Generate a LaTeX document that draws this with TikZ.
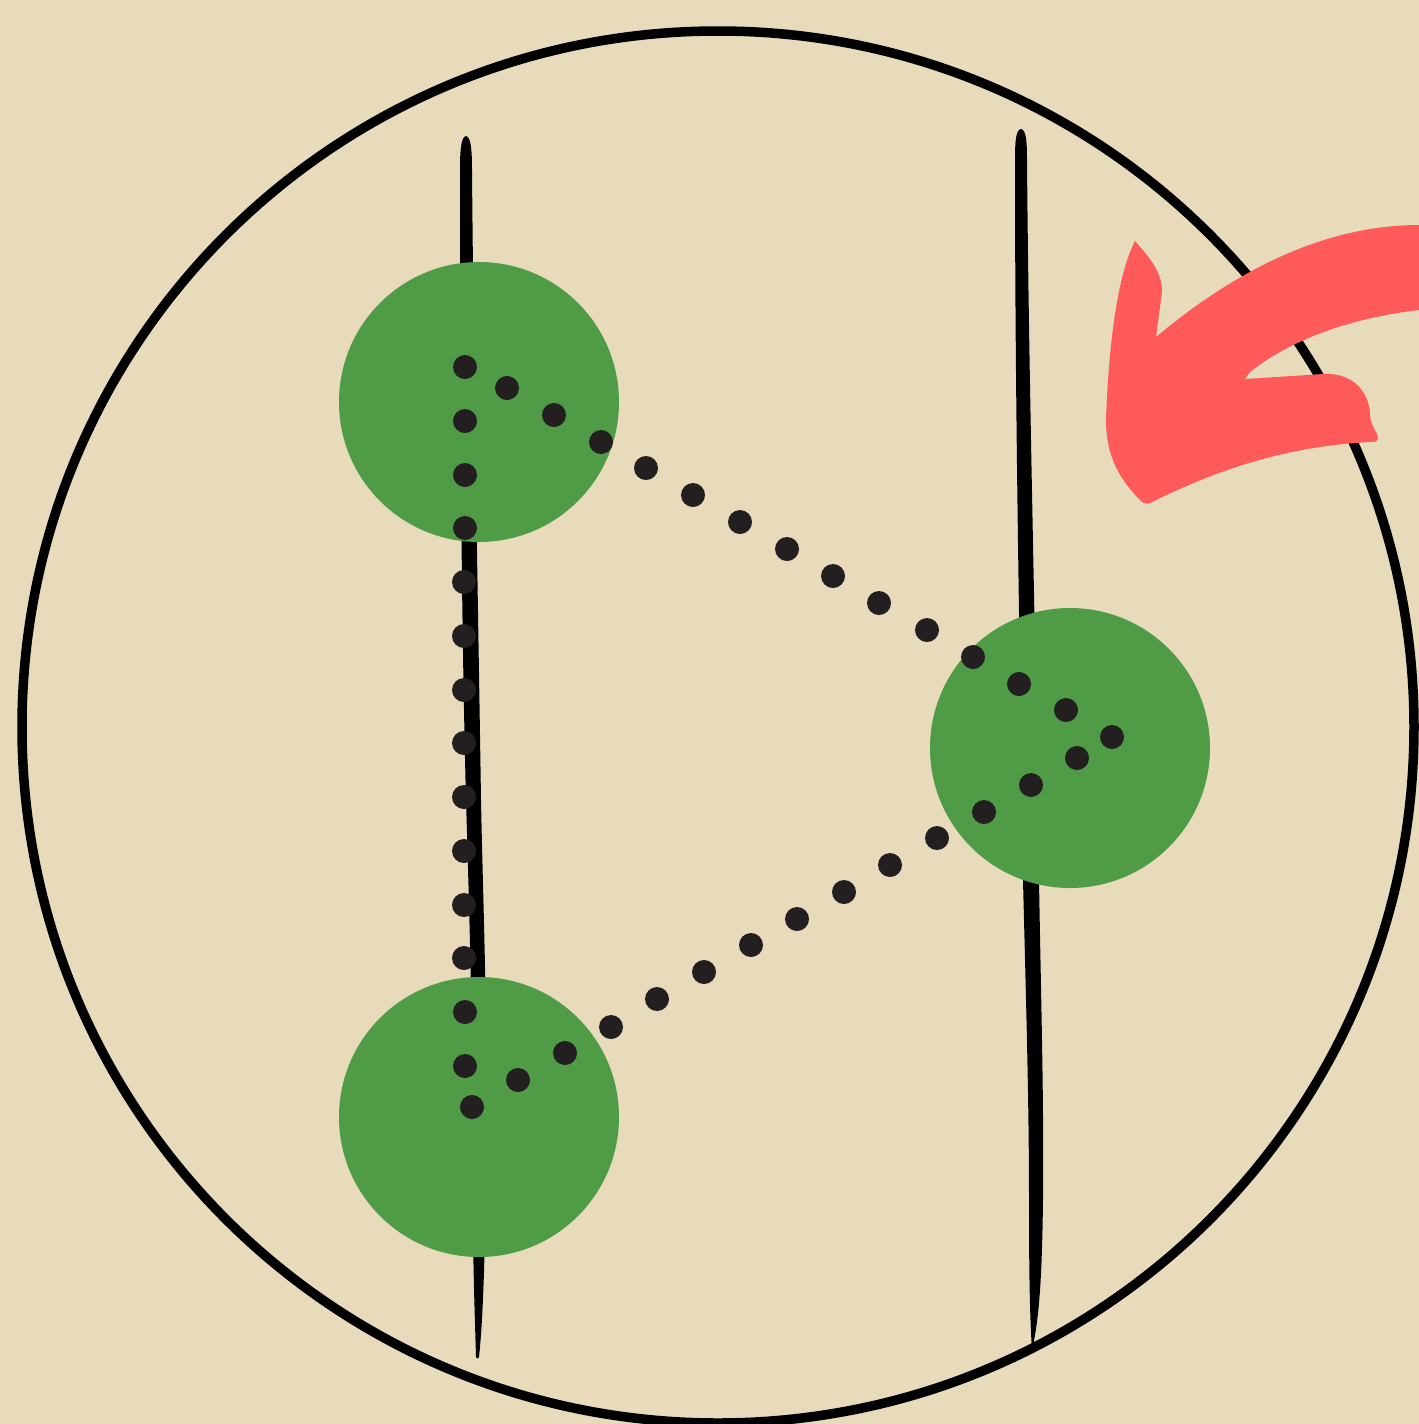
\documentclass[tikz,border=0pt]{standalone}
\definecolor{paper}{HTML}{E7DBBB}
\definecolor{leaf}{HTML}{4F9B46}
\definecolor{ink}{HTML}{231F20}
\definecolor{coral}{HTML}{FF5A5A}
\tikzset{
  blob/.style={circle, fill=leaf, minimum size=28mm, inner sep=0pt},
  dotmark/.style={fill=ink},
  stroke/.style={fill=black},
  ring/.style={draw=black, line width=0.95mm},
  arrowshape/.style={fill=coral}
}
\begin{document}
\begin{tikzpicture}[x=0.1mm, y=-0.1mm]
  % background
  \fill[paper] (0,0) rectangle (1419,1424);
  \useasboundingbox (0,0) rectangle (1419,1424);
  % big ring
  \coordinate (ringc) at (718,727);
  \draw[ring] (ringc) circle [radius=696];
  % left stick (tapered)
  \fill[stroke] (466,136) .. controls (461,137) and (460,150) .. (460,170)
     .. controls (460,400) and (461,600) .. (466,800)
     .. controls (469,900) and (472,1000) .. (472,1100)
     .. controls (472,1250) and (475,1320) .. (476,1357)
     .. controls (477,1359) and (478,1359) .. (479,1357)
     .. controls (483,1320) and (486,1250) .. (486,1100)
     .. controls (487,1000) and (483,900) .. (481,800)
     .. controls (478,600) and (474,400) .. (472,170)
     .. controls (472,150) and (471,137) .. (466,136) -- cycle;
  % right stick (tapered)
  \fill[stroke] (1021,129) .. controls (1016,130) and (1015,140) .. (1015,160)
     .. controls (1015,400) and (1019,600) .. (1023,880)
     .. controls (1026,1000) and (1029,1100) .. (1029,1200)
     .. controls (1029,1280) and (1030,1320) .. (1032,1350)
     .. controls (1039,1320) and (1042,1280) .. (1043,1200)
     .. controls (1044,1100) and (1041,1000) .. (1039,880)
     .. controls (1035,600) and (1029,400) .. (1027,160)
     .. controls (1027,140) and (1026,130) .. (1021,129) -- cycle;
  % green blobs
  \node[blob] (gA) at (479,402) {};
  \node[blob] (gB) at (1070,748) {};
  \node[blob] (gC) at (479,1117) {};
  % dots
  \foreach \p in {(465,367),(507,388),(554,415),(601,442),(646,468),(693,495),
                  (740,522),(787,549),(833,576),(879,603),(927,630),(973,657),
                  (1019,684),(1066,710),(1112,737),
                  (1077,758),(1031,785),(984,812),(937,838),(890,865),(844,892),
                  (797,919),(751,945),(704,972),(657,999),(611,1027),(565,1053),
                  (518,1080),(472,1107),
                  (465,421),(465,475),(465,528),(464,582),(464,636),(464,690),
                  (464,743),(464,797),(464,851),(464,905),(464,958),(465,1012),
                  (465,1066)}
    \fill[dotmark] \p circle [radius=12];
  % red arrow
  \fill[arrowshape] (1135,241)
     .. controls (1150,258) and (1162,272) .. (1162,292)
     -- (1156,337)
     .. controls (1230,275) and (1320,225) .. (1419,225)
     -- (1419,310)
     .. controls (1350,318) and (1290,340) .. (1250,372)
     .. controls (1247,375) .. (1245,379)
     -- (1323,374)
     .. controls (1355,372) and (1370,395) .. (1370,415)
     .. controls (1371,428) and (1378,432) .. (1378,438)
     .. controls (1378,442) and (1374,442) .. (1370,442)
     .. controls (1290,446) and (1220,468) .. (1150,503)
     .. controls (1145,505) and (1142,502) .. (1140,500)
     .. controls (1115,475) and (1106,450) .. (1106,420)
     .. controls (1108,360) and (1115,280) .. (1135,241) -- cycle;
\end{tikzpicture}
\end{document}
